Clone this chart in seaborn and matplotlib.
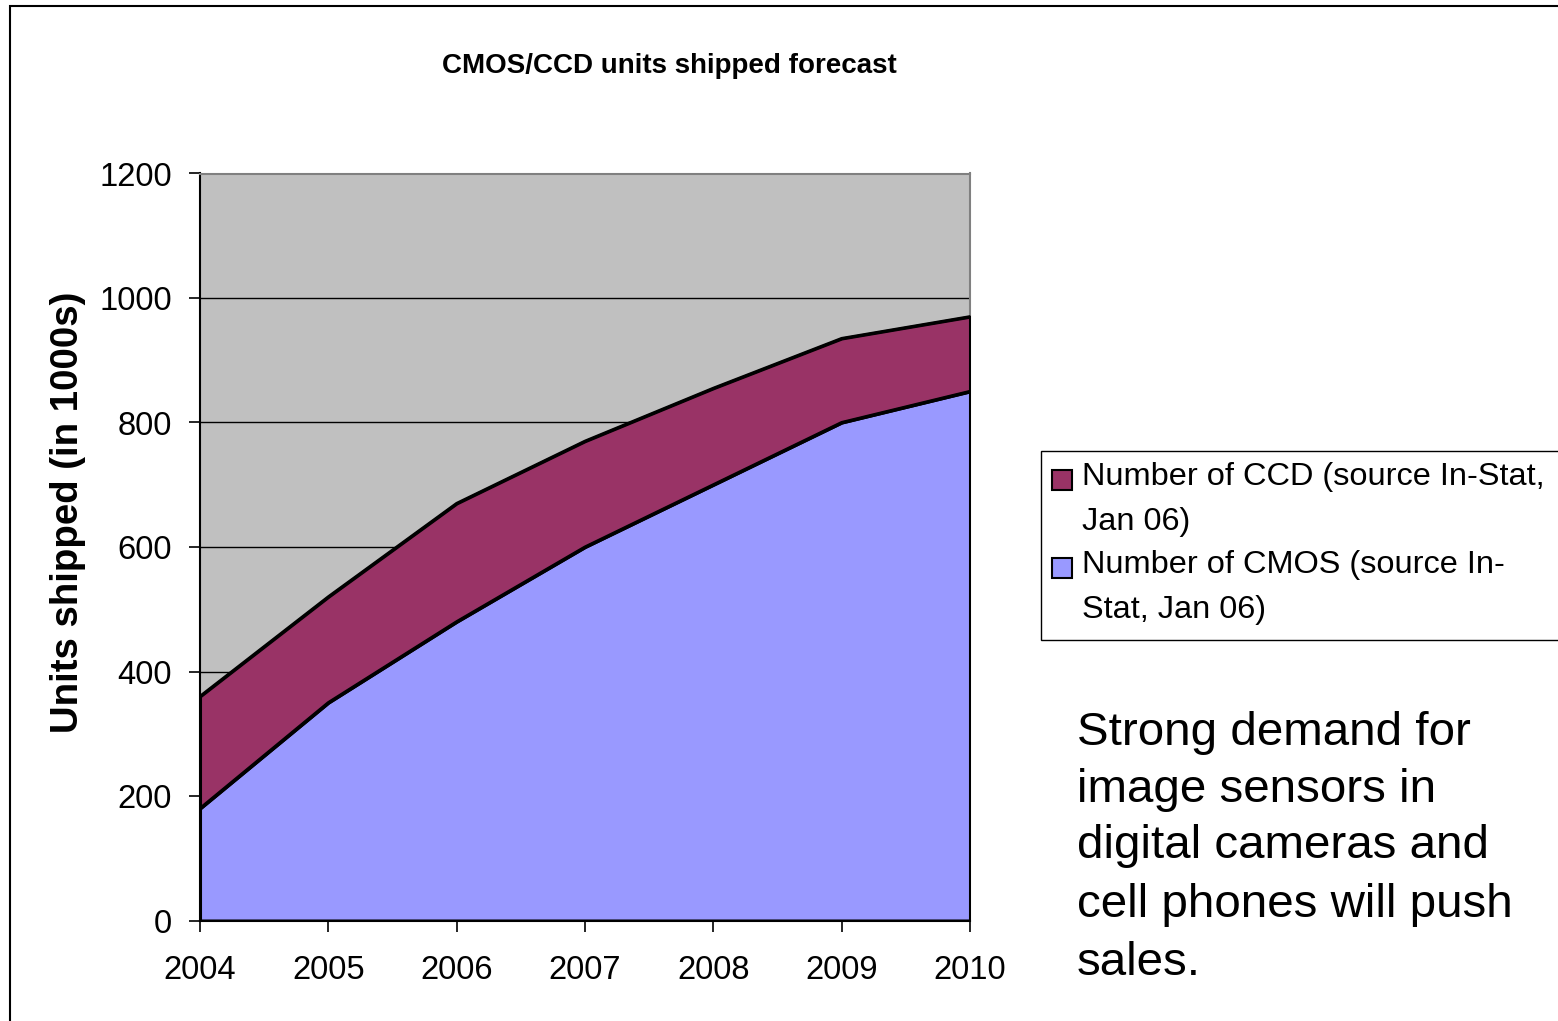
import matplotlib
matplotlib.use("Agg")
import matplotlib.pyplot as plt
from matplotlib.patches import Rectangle
import pandas as pd
import seaborn as sns

# ---- data (units shipped, in 1000s) ----
years = [2004, 2005, 2006, 2007, 2008, 2009, 2010]
cmos_units = [180, 350, 480, 600, 700, 800, 850]
ccd_units = [180, 170, 190, 170, 155, 135, 120]
y_ticks = [0, 200, 400, 600, 800, 1000, 1200]

title_text = "CMOS/CCD units shipped forecast"
y_label = "Units shipped (in 1000s)"
ccd_label = ["Number of CCD (source In-Stat,", "Jan 06)"]
cmos_label = ["Number of CMOS (source In-", "Stat, Jan 06)"]
note_lines = ["Strong demand for", "image sensors in", "digital cameras and",
              "cell phones will push", "sales."]
note_baselines = [745, 802, 858, 917, 975]

cmos_color = "#9999FF"
ccd_color = "#993366"
plot_bg = "#C0C0C0"

sns.set_style("white")
plt.rcParams["font.family"] = ["Liberation Sans", "DejaVu Sans"]
plt.rcParams["text.color"] = "black"
plt.rcParams["xtick.color"] = "black"
plt.rcParams["ytick.color"] = "black"

W, H = 1558, 1021
fig = plt.figure(figsize=(W / 100, H / 100), dpi=100)


def fx(px):
    return px / W


def fy(py):
    return 1 - py / H


ax = fig.add_axes([fx(200), fy(920.5), 770 / W, 747 / H])
ax.set_facecolor(plot_bg)

# stacked areas
ax.stackplot(years, cmos_units, ccd_units, colors=[cmos_color, ccd_color],
             edgecolor="black", linewidth=2.2, zorder=3)

# boundary lines of each stacked layer
totals = [a + b for a, b in zip(cmos_units, ccd_units)]
df = pd.DataFrame({
    "year": years * 2,
    "level": cmos_units + totals,
    "layer": ["CMOS"] * len(years) + ["CCD"] * len(years),
})
sns.lineplot(data=df, x="year", y="level", hue="layer", units="layer",
             estimator=None, palette=["black", "black"], linewidth=2.2,
             legend=False, ax=ax, zorder=4)

ax.set_xlim(years[0], years[-1])
ax.set_ylim(y_ticks[0], y_ticks[-1])
ax.set_xticks(years)
ax.set_yticks(y_ticks)
ax.set_xlabel("")
ax.set_ylabel("")

ax.yaxis.grid(True, color="black", linewidth=1.0)
ax.xaxis.grid(False)
ax.set_axisbelow(True)

for side in ("left", "bottom"):
    ax.spines[side].set_color("black")
    ax.spines[side].set_linewidth(1.5)
for side in ("top", "right"):
    ax.spines[side].set_color("#808080")
    ax.spines[side].set_linewidth(1.5)

ax.tick_params(axis="both", which="major", direction="out", length=8,
               width=1.2, color="black", labelsize=23.6, labelcolor="black",
               bottom=True, left=True)
ax.tick_params(axis="x", pad=17)
ax.tick_params(axis="y", pad=12)

# title and axis label
fig.text(fx(669), fy(73), title_text, ha="center", va="baseline",
         fontsize=20, fontweight="bold")
fig.text(fx(68), fy(512), y_label, ha="center", va="center", rotation=90,
         fontsize=27.6, fontweight="bold")

# outer frame
fig.add_artist(Rectangle((fx(10), -0.05), 2.0, fy(6) + 0.05, fill=False,
                         edgecolor="black", linewidth=1.5))

# legend box
fig.add_artist(Rectangle((fx(1041), fy(640)), 1.0, 189 / H, facecolor="white",
                         edgecolor="black", linewidth=1.0))
legend_rows = [(ccd_color, ccd_label, 490), (cmos_color, cmos_label, 578)]
for color, lines, sq_bottom in legend_rows:
    fig.add_artist(Rectangle((fx(1052), fy(sq_bottom)), 20 / W, 20 / H,
                             facecolor=color, edgecolor="black", linewidth=1.5))
    base = sq_bottom - 5
    for i, line in enumerate(lines):
        fig.text(fx(1082), fy(base + 45 * i), line, ha="left", va="baseline",
                 fontsize=23.4)

# side note
for line, base in zip(note_lines, note_baselines):
    fig.text(fx(1077), fy(base), line, ha="left", va="baseline", fontsize=34.2)

fig.savefig("out.png", dpi=100)
